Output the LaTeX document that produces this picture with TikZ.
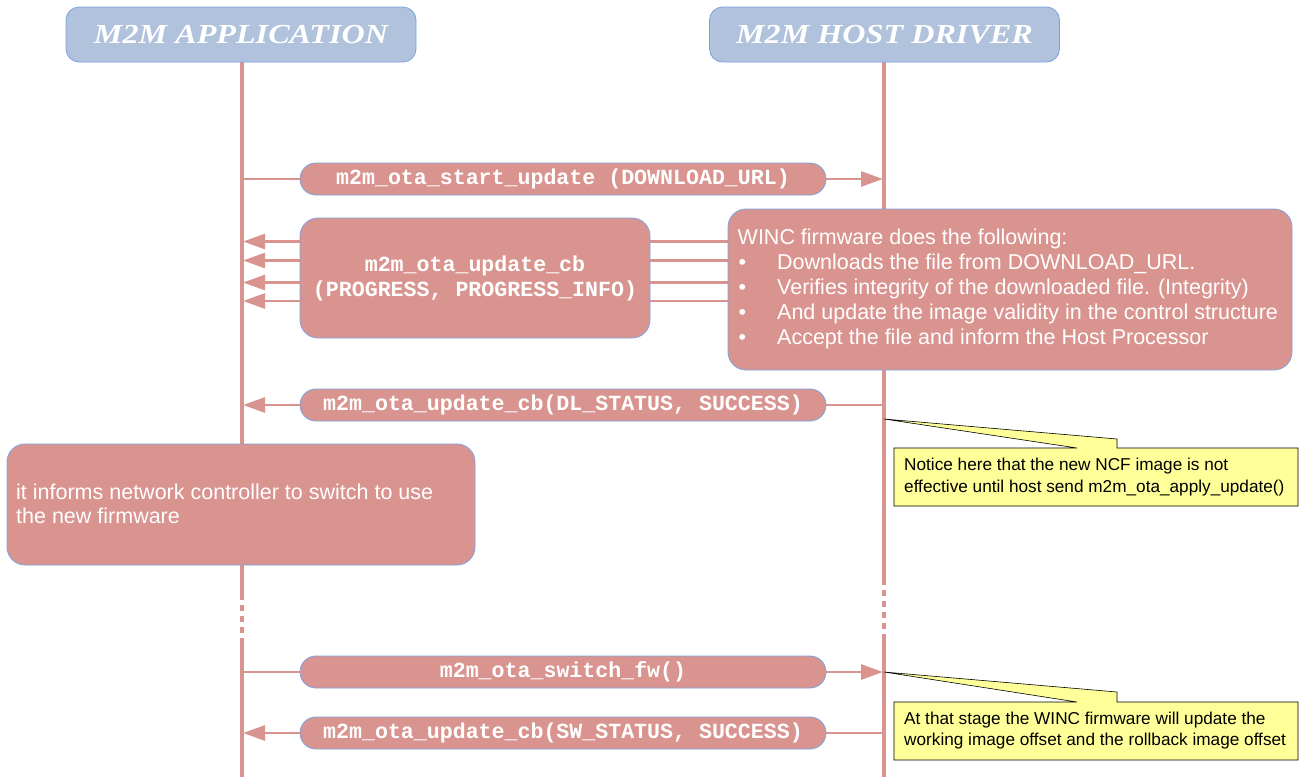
\documentclass[tikz,border=0pt]{standalone}
\usepackage{fontspec}
\setmainfont{Liberation Sans}
\newfontfamily\msgfont{Liberation Mono}
\newfontfamily\hdfont{Liberation Serif}
\usetikzlibrary{arrows.meta}
\definecolor{pinkc}{RGB}{217,148,143}
\definecolor{hdfill}{RGB}{176,194,220}
\definecolor{edgeblue}{RGB}{125,162,225}
\definecolor{noteyel}{RGB}{255,255,153}
\newcommand{\hdtext}[1]{\scalebox{1.17}[1]{#1}}
\begin{document}
\begin{tikzpicture}[x=1pt,y=-1pt,
  hdbox/.style={draw=edgeblue, line width=0.8pt, fill=hdfill, rounded corners=13pt,
    minimum width=350pt, minimum height=55pt, text=white, inner sep=0pt,
    font=\hdfont\bfseries\itshape\fontsize{27.5}{30}\selectfont},
  pill/.style={draw=edgeblue, line width=0.8pt, fill=pinkc, rounded corners=16pt,
    minimum width=526pt, minimum height=32pt, text=white, inner sep=0pt,
    font=\msgfont\bfseries\fontsize{21.6}{25}\selectfont},
  bigbox/.style={draw=edgeblue, line width=0.8pt, fill=pinkc, rounded corners=18pt, inner sep=0pt},
  lifeline/.style={draw=pinkc, line width=4pt},
  lifedots/.style={draw=pinkc, line width=4pt, dash pattern=on 6pt off 5pt},
  msgline/.style={draw=pinkc, line width=2.6pt, -{Triangle[length=22pt,width=15pt]}, shorten >=1pt},
  notebox/.style={draw=black, line width=0.6pt, fill=noteyel},
  notetext/.style={anchor=west, align=left, inner sep=0pt, font=\fontsize{17.2}{21.5}\selectfont},
  bodytext/.style={anchor=west, align=left, inner sep=0pt, text=white}
]
\useasboundingbox (0,0) rectangle (1306,777);
\fill[white] (0,0) rectangle (1306,777);

% lifelines
\coordinate (Atop) at (242,62);
\coordinate (Adot1) at (242,594);
\coordinate (Adot2) at (242,642);
\coordinate (Abot) at (242,777);
\coordinate (Htop) at (884,62);
\coordinate (Hdot1) at (884,579);
\coordinate (Hdot2) at (884,640);
\coordinate (Hbot) at (884,777);
\draw[lifeline] (Atop) -- (Adot1);
\draw[lifedots] (Adot1) -- (Adot2);
\draw[lifeline] (Adot2) -- (Abot);
\draw[lifeline] (Htop) -- (Hdot1);
\draw[lifedots] (Hdot1) -- (Hdot2);
\draw[lifeline] (Hdot2) -- (Hbot);

% message end points
\coordinate (a1) at (242,179); \coordinate (h1) at (884,179);
\coordinate (a2) at (242,241.5); \coordinate (h2) at (884,241.5);
\coordinate (a3) at (242,260.5); \coordinate (h3) at (884,260.5);
\coordinate (a4) at (242,282.5); \coordinate (h4) at (884,282.5);
\coordinate (a5) at (242,301); \coordinate (h5) at (884,301);
\coordinate (a6) at (242,405); \coordinate (h6) at (884,405);
\coordinate (a7) at (242,672); \coordinate (h7) at (884,672);
\coordinate (a8) at (242,733); \coordinate (h8) at (884,733);

\draw[msgline] (a1) -- (h1);
\draw[msgline] (h2) -- (a2);
\draw[msgline] (h3) -- (a3);
\draw[msgline] (h4) -- (a4);
\draw[msgline] (h5) -- (a5);
\draw[msgline] (h6) -- (a6);
\draw[msgline] (a7) -- (h7);
\draw[msgline] (h8) -- (a8);

% headers
\node[hdbox] (app) at (241,34.5) {\hdtext{M2M APPLICATION}};
\node[hdbox] (host) at (884.5,34.5) {\hdtext{M2M HOST DRIVER}};

% pills
\node[pill] (m1) at (563,179) {m2m\_ota\_start\_update (DOWNLOAD\_URL)};
\node[pill] (m6) at (563,405) {m2m\_ota\_update\_cb(DL\_STATUS, SUCCESS)};
\node[pill] (m7) at (563,672) {m2m\_ota\_switch\_fw()};
\node[pill] (m8) at (563,733) {m2m\_ota\_update\_cb(SW\_STATUS, SUCCESS)};

% progress box
\node[bigbox, minimum width=350pt, minimum height=120pt, text=white, align=center,
  font=\msgfont\bfseries\fontsize{21.6}{25}\selectfont] (prog) at (475,278)
  {m2m\_ota\_update\_cb\\(PROGRESS, PROGRESS\_INFO)};

% WINC box
\node[bigbox, minimum width=564pt, minimum height=161pt] (winc) at (1010,289.5) {};
\node[bodytext, font=\fontsize{21.5}{25}\selectfont] (wincT) at (737.5,288.5)
  {WINC firmware does the following:\\
   \makebox[39.5pt][l]{\hspace{1pt}\textbullet}Downloads the file from DOWNLOAD\_URL.\\
   \makebox[39.5pt][l]{\hspace{1pt}\textbullet}Verifies integrity of the downloaded file. (Integrity)\\
   \makebox[39.5pt][l]{\hspace{1pt}\textbullet}And update the image validity in the control structure\\
   \makebox[39.5pt][l]{\hspace{1pt}\textbullet}Accept the file and inform the Host Processor};

% inform box
\node[bigbox, minimum width=468pt, minimum height=121pt] (inform) at (241,504.5) {};
\node[bodytext, font=\fontsize{21.5}{24}\selectfont] (informT) at (16,504)
  {it informs network controller to switch to use\\the new firmware};

% callout 1
\coordinate (n1tip) at (884,419);
\draw[notebox] (894,448) -- (1077,448) -- (n1tip) -- (1117,439) -- (1117,448)
  -- (1298,448) -- (1298,506) -- (894,506) -- cycle;
\node[notetext] (n1) at (904,477)
  {Notice here that the new NCF image is not\\effective until host send m2m\_ota\_apply\_update()};

% callout 2
\coordinate (n2tip) at (884,672);
\draw[notebox] (894,702) -- (1077,702) -- (n2tip) -- (1117,692) -- (1117,702)
  -- (1298,702) -- (1298,760) -- (894,760) -- cycle;
\node[notetext] (n2) at (904,730.5)
  {At that stage the WINC firmware will update the\\working image offset and the rollback image offset};
\end{tikzpicture}
\end{document}
